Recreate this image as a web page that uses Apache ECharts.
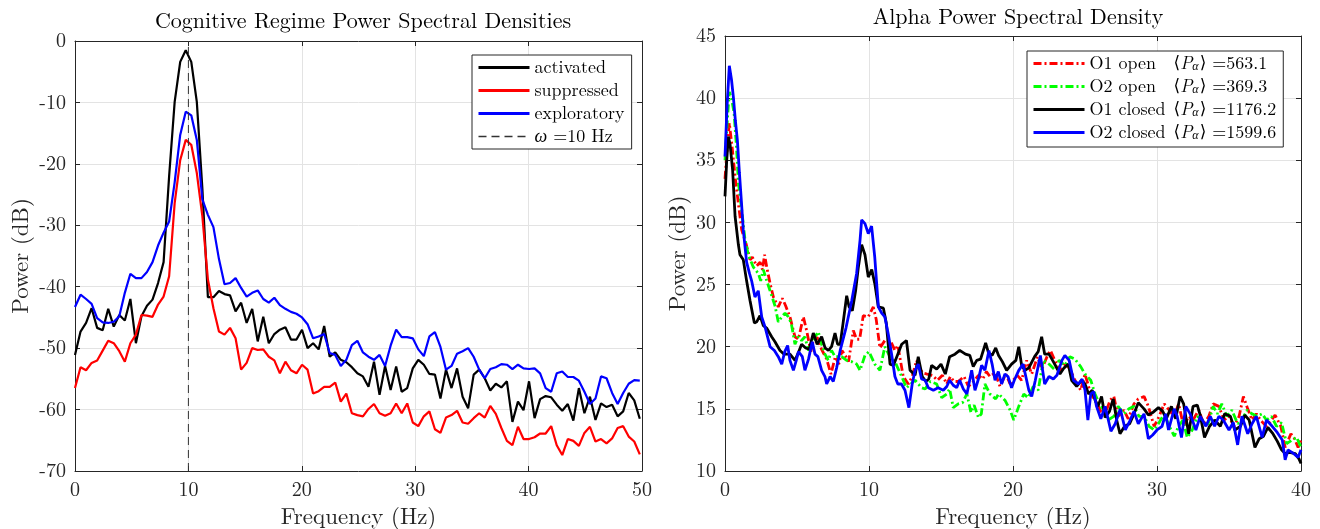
<!DOCTYPE html>
<html><head><meta charset="utf-8">
<script src="https://cdn.jsdelivr.net/npm/echarts@6/dist/echarts.min.js"></script>
<style>html,body{margin:0;padding:0;background:#fff}#c{width:1320px;height:529px}</style>
</head><body><div id="c"></div>
<script>
// ---------- Left panel data ----------
const leftTitle = 'Cognitive Regime Power Spectral Densities';
const rightTitle = 'Alpha Power Spectral Density';
const DF = 1000 / 2048; // frequency bin spacing (Hz)
const activated = [-51.1,-47.3,-45.9,-43.5,-46.7,-47.1,-43.6,-46.5,-44.6,-45.5,-42.0,-49.2,-44.8,-43.1,-42.1,-39.4,-36.0,-22.0,-9.9,-3.4,
 -1.5,-3.4,-9.9,-24.0,-41.7,-41.7,-40.7,-41.2,-41.4,-44.0,-42.6,-45.9,-43.6,-48.9,-44.9,-49.2,-47.7,-47.0,-46.6,-48.6,
 -48.6,-47.0,-50.0,-49.2,-50.2,-46.4,-51.4,-50.7,-51.9,-52.3,-53.1,-54.1,-54.6,-56.3,-52.2,-57.6,-52.9,-56.8,-53.0,-57.1,
 -56.5,-53.3,-51.9,-52.7,-54.2,-54.3,-58.2,-53.5,-56.5,-53.3,-57.9,-59.8,-54.3,-53.5,-54.9,-56.9,-55.8,-56.4,-55.4,-62.0,
 -58.7,-60.1,-55.4,-61.4,-58.3,-57.8,-58.0,-59.2,-60.2,-59.1,-61.8,-56.5,-60.6,-57.9,-61.7,-59.0,-59.6,-59.2,-61.1,-60.3,
 -57.3,-58.5,-61.5];
const suppressed = [-56.5,-53.1,-53.6,-52.4,-52.0,-50.4,-48.8,-49.2,-50.5,-52.2,-49.2,-47.8,-44.6,-44.7,-44.9,-42.9,-41.6,-38.3,-26.4,-19.4,
 -16.1,-16.9,-21.5,-28.5,-38.8,-43.5,-47.3,-47.8,-46.7,-48.4,-53.5,-52.4,-50.0,-50.3,-50.2,-51.4,-52.0,-54.1,-52.2,-53.6,
 -54.1,-52.7,-53.5,-57.4,-57.0,-56.3,-56.3,-55.6,-58.7,-57.4,-60.6,-60.9,-61.1,-59.9,-59.1,-60.6,-61.0,-60.6,-59.0,-60.6,
 -59.0,-62.1,-62.7,-61.1,-60.3,-63.2,-63.8,-61.3,-60.9,-60.2,-62.1,-62.3,-61.4,-60.6,-61.3,-59.4,-60.7,-63.0,-65.1,-65.8,
 -62.8,-64.8,-64.8,-64.5,-63.9,-63.9,-62.7,-65.8,-67.4,-64.8,-65.1,-65.9,-63.8,-62.8,-65.2,-64.8,-65.5,-64.7,-63.0,-62.7,
 -64.4,-65.2,-67.3];
const exploratory = [-43.3,-41.3,-42.0,-42.8,-45.1,-45.8,-45.9,-45.7,-44.8,-41.0,-37.9,-38.6,-38.6,-37.6,-36.0,-33.3,-31.2,-29.4,-23.0,-15.3,
 -11.5,-12.1,-16.1,-25.8,-28.3,-30.3,-35.5,-39.6,-39.4,-38.6,-40.2,-41.6,-41.0,-40.6,-42.0,-42.6,-41.8,-43.0,-43.6,-44.1,
 -44.4,-45.0,-46.1,-48.4,-48.1,-47.7,-50.8,-51.1,-52.9,-51.9,-49.5,-48.8,-50.7,-51.4,-51.9,-51.1,-52.9,-49.6,-47.0,-48.2,
 -48.2,-48.4,-50.2,-51.3,-48.1,-47.4,-49.8,-53.5,-52.9,-50.9,-50.5,-50.0,-51.4,-53.5,-54.9,-53.4,-53.1,-52.6,-52.7,-53.4,
 -52.7,-53.3,-53.4,-53.3,-54.1,-56.5,-57.1,-54.1,-53.8,-54.7,-54.7,-55.3,-57.1,-59.1,-58.2,-54.6,-54.9,-57.3,-59.1,-57.3,
 -55.8,-55.2,-55.3];
const omegaHz = 10;
const omegaSpan = [-70, 0];

// ---------- Right panel data: [frequency Hz, power dB] ----------
const o1Open = [[0,33.5],[0.15,36],[0.3,38],[0.5,36],[0.7,33.7],[0.93,31.5],[1.16,29.4],[1.46,28.3],[1.74,27.0],[1.9,27.2],[2.2,26.5],[2.44,26.8],[2.6,26.2],[2.75,27.4],[2.9,26.4],[3.13,25.1],[3.36,24.0],[3.7,23.2],[3.98,23.9],[4.21,23.3],[4.51,22.4],[4.86,20.8],[5.1,20.6],[5.44,22.4],[5.67,21.3],[5.96,19.6],[6.2,20.8],[6.43,20.7],[6.7,19.8],[7.06,19.0],[7.36,17.8],[7.66,19.2],[7.9,18.6],[8.12,19.7],[8.35,19.3],[8.58,18.8],[8.91,21.3],[9.14,20.6],[9.35,20.6],[9.6,22.5],[9.95,22.4],[10.3,23.2],[10.5,22.2],[10.76,19.9],[11.1,20.5],[11.48,20.5],[11.8,19.7],[12.0,20.1],[12.38,17.6],[12.73,17.0],[13.0,17.6],[13.3,18.9],[13.7,17.9],[14.04,17.8],[14.4,17.7],[14.75,17.3],[15.1,17.7],[15.4,17.0],[15.65,17.6],[15.9,17.2],[16.2,17.2],[16.6,17.6],[16.9,16.8],[17.25,17.2],[17.6,17.7],[17.9,17.4],[18.15,18.0],[18.4,17.6],[18.75,17.9],[19.1,16.8],[19.5,17.8],[19.8,17.0],[20.3,17.7],[20.6,17.3],[20.95,18.9],[21.3,17.8],[21.7,19.2],[22.0,18.2],[22.4,19.3],[22.6,19.7],[22.9,18.9],[23.3,18.1],[23.65,18.7],[24.0,18.1],[24.3,17.3],[24.7,16.5],[25.0,17.8],[25.4,16.2],[25.75,15.6],[26.1,14.8],[26.4,14.6],[26.75,15.7],[27.0,16.0],[27.3,14.4],[27.7,14.9],[28.0,14.2],[28.4,15.4],[28.7,15.8],[29.1,16.0],[29.4,15.2],[29.8,13.6],[30.15,14.4],[30.5,15.4],[30.85,14.9],[31.2,14.4],[31.5,15.4],[31.85,13.6],[32.2,14.4],[32.5,14.1],[32.9,14.9],[33.25,13.8],[33.6,14.4],[33.9,15.4],[34.3,15.2],[34.65,14.1],[35.0,14.4],[35.35,13.6],[35.7,14.4],[36.0,16.0],[36.3,15.0],[36.6,14.1],[36.9,14.6],[37.25,14.0],[37.6,13.6],[37.9,14.0],[38.2,14.5],[38.6,13.6],[38.9,11.9],[39.3,13.0],[39.55,12.6],[39.8,11.9],[40,12.5]];
const o2Open = [[0,35.0],[0.15,38],[0.3,40.5],[0.45,40.0],[0.63,38.8],[0.8,36.0],[0.93,33.2],[1.16,31.0],[1.39,28.6],[1.62,27.4],[1.97,26.4],[2.31,25.9],[2.48,25.3],[2.66,26.2],[2.9,25.3],[3.13,24.5],[3.47,23.3],[3.7,22.0],[3.94,22.4],[4.17,22.7],[4.4,22.4],[4.6,21.9],[4.86,20.2],[5.09,20.8],[5.32,20.5],[5.55,20.8],[5.79,19.7],[6.0,20.0],[6.25,20.8],[6.48,21.2],[6.71,20.2],[6.94,19.4],[7.18,18.9],[7.4,19.7],[7.64,19.2],[8.1,19.2],[8.45,18.9],[8.8,18.8],[9.14,18.6],[9.38,18.1],[9.72,19.3],[10.0,19.6],[10.4,18.6],[10.76,18.1],[11.1,20.0],[11.45,19.2],[11.8,18.8],[12.27,17.6],[12.6,16.7],[12.9,17.0],[13.2,17.3],[13.65,16.7],[13.9,16.6],[14.25,17.2],[14.7,17.0],[15.05,15.9],[15.4,16.2],[15.6,16.6],[15.85,15.1],[16.2,15.4],[16.5,15.5],[16.8,16.2],[17.08,14.7],[17.3,15.3],[17.6,14.3],[17.8,14.6],[18.05,17.0],[18.4,16.2],[18.8,15.8],[19.0,16.2],[19.44,15.7],[19.8,14.9],[20.05,14.1],[20.4,15.2],[20.75,16.2],[21.05,15.9],[21.4,16.8],[21.75,16.5],[22.1,18.9],[22.5,18.6],[22.85,18.2],[23.2,18.9],[23.6,18.5],[23.95,19.2],[24.3,19.0],[24.7,18.4],[25.0,17.8],[25.4,17.3],[25.7,16.2],[26.0,15.4],[26.3,14.9],[26.6,14.1],[27.0,14.4],[27.3,15.2],[27.7,14.6],[28.05,15.0],[28.4,15.2],[28.75,14.4],[29.1,14.4],[29.45,13.6],[29.8,13.3],[30.15,13.9],[30.5,14.6],[30.85,13.6],[31.2,12.8],[31.5,13.6],[31.8,14.1],[32.1,12.7],[32.45,13.3],[32.8,14.4],[33.15,14.1],[33.5,13.6],[33.9,15.2],[34.2,14.6],[34.5,15.4],[34.85,14.4],[35.2,14.9],[35.6,13.8],[35.9,14.1],[36.25,14.9],[36.6,14.6],[36.95,14.4],[37.3,14.6],[37.6,14.1],[37.95,14.4],[38.3,13.6],[38.65,13.9],[39.0,12.2],[39.4,12.5],[39.7,12.7],[40,11.9]];
const o1Closed = [[0,32.1],[0.12,35.0],[0.23,36.9],[0.35,36.3],[0.53,34.2],[0.7,30.5],[0.93,28.2],[1.04,27.4],[1.27,27.0],[1.5,25.3],[1.74,23.7],[2.04,21.9],[2.2,22.0],[2.43,22.5],[2.66,21.7],[2.89,21.5],[3.24,20.8],[3.47,20.4],[3.82,19.7],[4.1,19.4],[4.51,19.4],[4.86,18.9],[5.05,19.4],[5.32,20.2],[5.6,19.9],[5.85,19.8],[6.13,21.1],[6.4,20.2],[6.71,20.8],[6.95,19.9],[7.18,19.7],[7.4,20.0],[7.64,21.1],[7.82,20.2],[8.0,20.2],[8.2,21.9],[8.45,24.1],[8.62,23.2],[8.84,22.9],[9.07,24.5],[9.26,26.4],[9.49,28.2],[9.72,27.4],[9.95,25.6],[10.19,26.2],[10.4,25.1],[10.65,23.2],[11.0,23.1],[11.2,21.9],[11.46,18.6],[11.7,18.5],[12.0,19.4],[12.27,20.2],[12.6,20.5],[12.85,18.1],[13.2,17.7],[13.42,19.2],[13.7,17.6],[13.95,17.2],[14.15,17.4],[14.35,18.5],[14.7,18.2],[15.0,18.6],[15.3,17.8],[15.6,19.2],[15.97,19.4],[16.3,19.7],[16.7,19.4],[17.0,19.3],[17.24,18.4],[17.48,18.9],[17.75,19.0],[18.1,20.3],[18.3,19.5],[18.55,19.3],[18.8,19.9],[19.0,19.3],[19.26,18.8],[19.56,18.1],[19.9,18.6],[20.2,18.9],[20.4,20.0],[20.6,18.5],[20.83,18.1],[21.1,18.3],[21.5,19.2],[21.75,19.6],[21.99,20.8],[22.2,19.4],[22.5,19.4],[22.8,18.8],[23.26,17.8],[23.55,18.3],[23.84,18.6],[24.07,17.3],[24.42,16.8],[24.76,17.3],[25.0,17.0],[25.25,16.2],[25.5,16.5],[25.7,15.7],[25.9,15.2],[26.15,16.0],[26.4,14.3],[26.7,14.8],[26.96,15.8],[27.2,14.1],[27.43,13.0],[27.75,13.6],[28.1,13.8],[28.4,14.6],[28.7,15.5],[29.1,15.0],[29.4,14.5],[29.7,14.7],[30.1,15.1],[30.4,14.8],[30.65,14.2],[31.0,15.2],[31.3,14.2],[31.6,16.0],[31.85,15.4],[32.2,13.0],[32.5,15.2],[32.8,15.3],[33.0,14.5],[33.3,12.7],[33.65,13.6],[34.0,14.1],[34.4,13.6],[34.7,14.6],[35.1,14.4],[35.4,13.3],[35.8,13.6],[36.1,14.5],[36.4,14.1],[36.8,11.9],[37.1,12.6],[37.4,12.8],[37.7,13.5],[38.05,13.0],[38.35,12.4],[38.65,11.7],[38.9,11.4],[39.2,11.5],[39.6,11.4],[39.85,11.0],[40,10.6]];
const o2Closed = [[0,35.3],[0.15,39.5],[0.3,42.6],[0.45,41.5],[0.58,40.1],[0.72,38.2],[0.86,36.6],[1.0,34.0],[1.15,31.5],[1.27,29.4],[1.5,26.8],[1.7,25.9],[1.85,25.3],[2.08,24.0],[2.31,24.5],[2.55,22.4],[2.78,21.6],[3.13,20.0],[3.43,19.7],[3.7,19.2],[3.94,18.6],[4.15,19.6],[4.35,20.1],[4.51,18.9],[4.75,18.1],[4.95,18.9],[5.1,19.6],[5.37,19.2],[5.55,18.1],[5.8,19.0],[6.06,20.4],[6.25,19.4],[6.45,19.2],[6.71,18.1],[6.94,17.6],[7.06,17.0],[7.3,17.6],[7.52,17.2],[7.75,18.3],[8.0,19.7],[8.4,21.5],[8.8,23.7],[9.14,25.9],[9.38,28.6],[9.49,30.2],[9.72,29.9],[9.95,29.1],[10.18,29.7],[10.4,27.2],[10.65,23.2],[10.88,22.7],[11.1,22.4],[11.34,21.0],[11.57,19.4],[11.8,17.6],[12.0,17.0],[12.25,17.0],[12.5,16.5],[12.77,15.1],[13.0,17.0],[13.2,18.1],[13.42,18.6],[13.65,17.4],[13.9,17.3],[14.12,16.7],[14.47,16.5],[14.8,16.7],[15.16,16.5],[15.4,16.8],[15.6,17.3],[15.85,16.9],[16.09,16.7],[16.3,17.3],[16.55,16.6],[16.8,16.2],[17.13,18.1],[17.36,16.5],[17.6,17.4],[17.82,18.5],[18.05,18.1],[18.33,19.7],[18.55,18.6],[18.75,17.3],[18.98,18.0],[19.21,17.0],[19.44,17.8],[19.65,17.6],[19.9,16.7],[20.09,17.3],[20.4,18.1],[20.7,18.6],[21.1,16.5],[21.3,16.0],[21.55,17.3],[21.9,19.3],[22.2,17.0],[22.5,17.6],[22.8,17.4],[23.05,17.7],[23.4,18.9],[23.6,19.3],[23.9,18.9],[24.2,17.3],[24.55,17.0],[24.8,17.4],[25.0,16.5],[25.2,14.1],[25.4,16.2],[25.6,16.4],[25.8,15.2],[26.1,14.2],[26.4,15.2],[26.6,14.2],[26.8,13.2],[27.1,13.8],[27.45,15.0],[27.8,13.3],[28.1,14.0],[28.4,14.8],[28.7,13.8],[29.1,14.6],[29.4,12.6],[29.7,12.9],[30.0,13.3],[30.35,13.6],[30.6,14.6],[30.8,13.3],[31.2,15.0],[31.4,14.4],[31.7,12.7],[32.0,15.2],[32.3,14.6],[32.7,13.3],[33.0,14.4],[33.4,13.6],[33.7,14.4],[34.0,13.6],[34.3,14.4],[34.6,14.1],[35.0,13.3],[35.3,13.9],[35.6,12.1],[35.9,14.4],[36.3,13.0],[36.6,13.8],[36.9,14.4],[37.3,12.7],[37.6,14.1],[38.0,13.6],[38.35,13.1],[38.7,12.5],[38.9,10.9],[39.1,11.7],[39.5,11.4],[39.8,11.1],[40,11.7]];
const meanAlpha = {'O1 open':'563.1','O2 open':'369.3','O1 closed':'1176.2','O2 closed':'1599.6'};

// ---------- Chart ----------
const FONT = "'Latin Modern Roman','CMU Serif','Liberation Serif','DejaVu Serif',serif";
const AX = '#262626';
const GRIDC = '#e3e3e3';
const withF = arr => arr.map((v, k) => [k * DF, v]);

function axis(gi, pos, min, max, interval, main, name, nameGap) {
  return {
    gridIndex: gi, type: 'value', position: pos, min, max, interval,
    name: main ? name : '', nameLocation: 'middle', nameGap,
    nameTextStyle: {fontFamily: FONT, fontSize: 23, color: AX},
    axisLine: {show: true, onZero: false, lineStyle: {color: AX, width: 1}},
    axisTick: {show: true, inside: true, length: 5, lineStyle: {color: AX}},
    axisLabel: {show: main, fontFamily: FONT, fontSize: 20, color: AX, margin: 9},
    splitLine: {show: main, lineStyle: {color: GRIDC, width: 1}}
  };
}
function ln(name, data, color, width, type, xi, yi) {
  return {name, type: 'line', data, xAxisIndex: xi, yAxisIndex: yi, showSymbol: false, symbol: 'none',
    lineStyle: {color, width, type}, itemStyle: {color}, emphasis: {disabled: true}, z: 3};
}
const legendCommon = {
  orient: 'vertical', itemWidth: 51, itemHeight: 14, itemGap: 4,
  borderColor: AX, borderWidth: 1, backgroundColor: '#fff', selectedMode: false,
  itemStyle: {color: 'rgba(0,0,0,0)', borderColor: 'rgba(0,0,0,0)', borderWidth: 0, opacity: 0}
};
const legItem = (name, w) => ({name, lineStyle: {width: w}});

const chart = echarts.init(document.getElementById('c'));
chart.setOption({
  animation: false,
  backgroundColor: '#fff',
  title: [
    {text: leftTitle, left: 358, top: 5, textAlign: 'center', textStyle: {fontFamily: FONT, fontSize: 22, fontWeight: 'normal', color: '#000'}},
    {text: rightTitle, left: 1013, top: 1, textAlign: 'center', textStyle: {fontFamily: FONT, fontSize: 22, fontWeight: 'normal', color: '#000'}}
  ],
  grid: [
    {left: 75, top: 41, width: 567, height: 430, outerBoundsMode: 'none', containLabel: false},
    {left: 725, top: 36, width: 576, height: 435, outerBoundsMode: 'none', containLabel: false}
  ],
  xAxis: [
    axis(0, 'bottom', 0, 50, 10, true, 'Frequency (Hz)', 34),
    axis(0, 'top', 0, 50, 10, false, '', 0),
    axis(1, 'bottom', 0, 40, 10, true, 'Frequency (Hz)', 34),
    axis(1, 'top', 0, 40, 10, false, '', 0)
  ],
  yAxis: [
    axis(0, 'left', -70, 0, 10, true, 'Power (dB)', 43),
    axis(0, 'right', -70, 0, 10, false, '', 0),
    axis(1, 'left', 10, 45, 5, true, 'Power (dB)', 36),
    axis(1, 'right', 10, 45, 5, false, '', 0)
  ],
  legend: [
    Object.assign({}, legendCommon, {
      data: [legItem('activated', 3), legItem('suppressed', 3), legItem('exploratory', 3), legItem('omega', 1.5)],
      left: 472, top: 55, padding: [3, 7, 3, 5],
      formatter: n => n === 'omega' ? '{i|ω} =10 Hz' : n,
      textStyle: {fontFamily: FONT, fontSize: 18, lineHeight: 19, color: '#000',
        rich: {i: {fontFamily: FONT, fontStyle: 'italic', fontSize: 18, lineHeight: 19, color: '#000'}}}
    }),
    Object.assign({}, legendCommon, {
      data: [legItem('O1 open', 3), legItem('O2 open', 3), legItem('O1 closed', 3), legItem('O2 closed', 3)],
      left: 1027, top: 51, padding: [3, 7, 5, 5],
      formatter: n => '{n|' + n + '}{a|⟨}{p|P}{s|α}{a|⟩} =' + meanAlpha[n],
      textStyle: {fontFamily: FONT, fontSize: 18, lineHeight: 19, color: '#000',
        rich: {
          n: {fontFamily: FONT, fontSize: 18, lineHeight: 19, width: 84, color: '#000'},
          a: {fontFamily: "'DejaVu Serif',serif", fontSize: 17, lineHeight: 19, color: '#000'},
          p: {fontFamily: FONT, fontStyle: 'italic', fontSize: 18, lineHeight: 19, color: '#000'},
          s: {fontFamily: FONT, fontStyle: 'italic', fontSize: 12, lineHeight: 19, color: '#000', padding: [6, 1, 0, 0]}
        }}
    })
  ],
  series: [
    ln('activated', withF(activated), '#000000', 2.2, 'solid', 0, 0),
    ln('suppressed', withF(suppressed), '#ff0000', 2.2, 'solid', 0, 0),
    ln('exploratory', withF(exploratory), '#0000ff', 2.2, 'solid', 0, 0),
    ln('omega', omegaSpan.map(v => [omegaHz, v]), '#333333', 1, [8, 5], 0, 0),
    ln('O1 open', o1Open, '#ff0000', 2.8, [8, 3, 2, 3], 2, 2),
    ln('O2 open', o2Open, '#00ff00', 2.8, [8, 3, 2, 3], 2, 2),
    ln('O1 closed', o1Closed, '#000000', 2.8, 'solid', 2, 2),
    ln('O2 closed', o2Closed, '#0000ff', 2.8, 'solid', 2, 2)
  ]
});
</script></body></html>
